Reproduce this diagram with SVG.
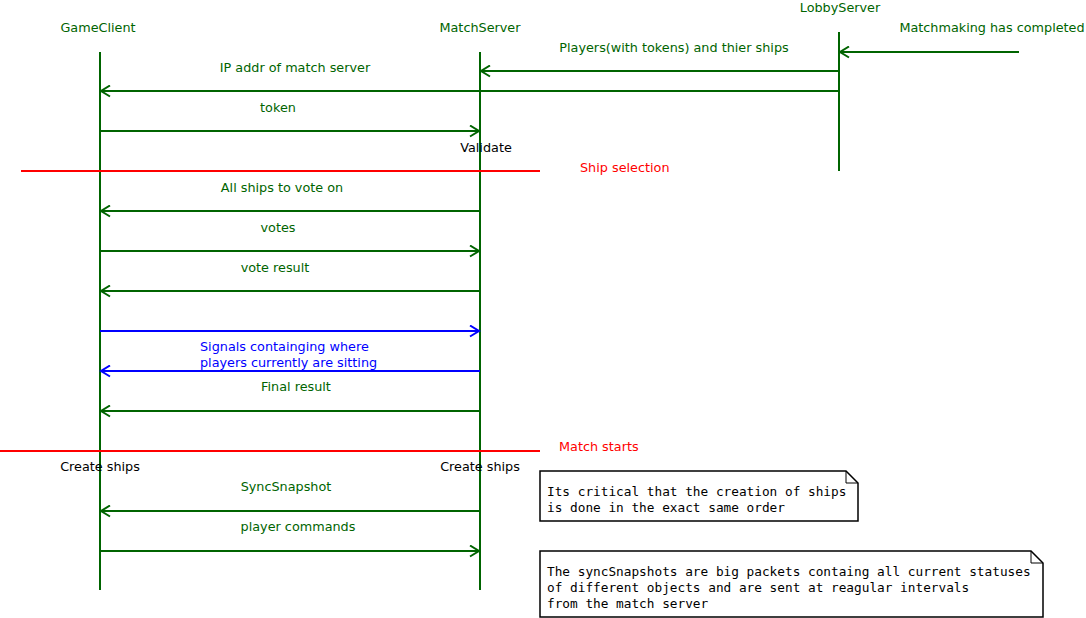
<svg xmlns="http://www.w3.org/2000/svg" width="1086" height="618" viewBox="0 0 1086 618">
<style>
text{font-family:"DejaVu Sans","Liberation Sans",sans-serif;font-size:12.8px}
.g{fill:#006400}
.b{fill:#0000ff}
.r{fill:#ff0000}
.k{fill:#000}
.m{text-anchor:middle}
.life{stroke:#006400;stroke-width:2}
.ag{stroke:#006400;stroke-width:2;fill:none;marker-end:url(#ahg)}
.ab{stroke:#0000ff;stroke-width:2;fill:none;marker-end:url(#ahb)}
.sep{stroke:#ff0000;stroke-width:2}
.note{fill:#fff;stroke:#000;stroke-width:1.5}
.mono{font-family:"DejaVu Sans Mono","Liberation Mono",monospace;font-size:12.75px;fill:#000}
</style>
<defs>
<marker id="ahg" markerWidth="12" markerHeight="13" refX="10" refY="6.5" orient="auto" markerUnits="userSpaceOnUse"><path d="M1,1 L10,6.5 L1,12" fill="none" stroke="#006400" stroke-width="2"/></marker>
<marker id="ahb" markerWidth="12" markerHeight="13" refX="10" refY="6.5" orient="auto" markerUnits="userSpaceOnUse"><path d="M1,1 L10,6.5 L1,12" fill="none" stroke="#0000ff" stroke-width="2"/></marker>
</defs>
<rect width="1086" height="618" fill="#fff"/>
<g id="GameClient"><text class="g m" x="98" y="32">GameClient</text><line class="life" x1="100" y1="52" x2="100" y2="590"/></g>
<g id="MatchServer"><text class="g m" x="480" y="32">MatchServer</text><line class="life" x1="480" y1="52" x2="480" y2="590"/></g>
<g id="LobbyServer"><text class="g m" x="840" y="12">LobbyServer</text><line class="life" x1="839" y1="32" x2="839" y2="171"/></g>
<g id="connectors">
<line class="ag" x1="1019" y1="52" x2="840" y2="52"/>
<text class="g m" x="992" y="32">Matchmaking has completed</text>
<line class="ag" x1="839" y1="71" x2="481" y2="71"/>
<text class="g m" x="674" y="52">Players(with tokens) and thier ships</text>
<line class="ag" x1="839" y1="91" x2="101" y2="91"/>
<text class="g m" x="295" y="72">IP addr of match server</text>
<line class="ag" x1="100" y1="131" x2="479" y2="131"/>
<text class="g m" x="278" y="112">token</text>
<line class="ag" x1="480" y1="211" x2="101" y2="211"/>
<text class="g m" x="282" y="192">All ships to vote on</text>
<line class="ag" x1="100" y1="251" x2="479" y2="251"/>
<text class="g m" x="278" y="232">votes</text>
<line class="ag" x1="480" y1="291" x2="101" y2="291"/>
<text class="g m" x="275" y="272">vote result</text>
<line class="ab" x1="100" y1="331" x2="479" y2="331"/>
<line class="ab" x1="480" y1="371" x2="101" y2="371"/>
<text class="b" x="200" y="351">Signals containging where</text>
<text class="b" x="200" y="367">players currently are sitting</text>
<line class="ag" x1="480" y1="411" x2="101" y2="411"/>
<text class="g m" x="296" y="391">Final result</text>
<line class="ag" x1="480" y1="511" x2="101" y2="511"/>
<text class="g m" x="286" y="491">SyncSnapshot</text>
<line class="ag" x1="100" y1="551" x2="479" y2="551"/>
<text class="g m" x="298" y="531">player commands</text>
</g>
<g id="separators">
<line class="sep" x1="21" y1="171" x2="540" y2="171"/>
<text class="r" x="580" y="172">Ship selection</text>
<line class="sep" x1="0" y1="451" x2="540" y2="451"/>
<text class="r" x="559" y="451">Match starts</text>
</g>
<g id="actions">
<text class="k m" x="486" y="152">Validate</text>
<text class="k m" x="100" y="471">Create ships</text>
<text class="k m" x="480" y="471">Create ships</text>
</g>
<g id="note1">
<path class="note" d="M540,471 L846,471 L858,483 L858,521 L540,521 Z"/>
<path d="M846,471 L846,483 L858,483" fill="none" stroke="#000" stroke-width="1"/>
<text class="mono" x="547" y="496">Its critical that the creation of ships</text>
<text class="mono" x="547" y="512">is done in the exact same order</text>
</g>
<g id="note2">
<path class="note" d="M540,551 L1031,551 L1043,563 L1043,617 L540,617 Z"/>
<path d="M1031,551 L1031,563 L1043,563" fill="none" stroke="#000" stroke-width="1"/>
<text class="mono" x="547" y="576">The syncSnapshots are big packets containg all current statuses</text>
<text class="mono" x="547" y="592">of different objects and are sent at reagular intervals</text>
<text class="mono" x="547" y="608">from the match server</text>
</g>
</svg>
